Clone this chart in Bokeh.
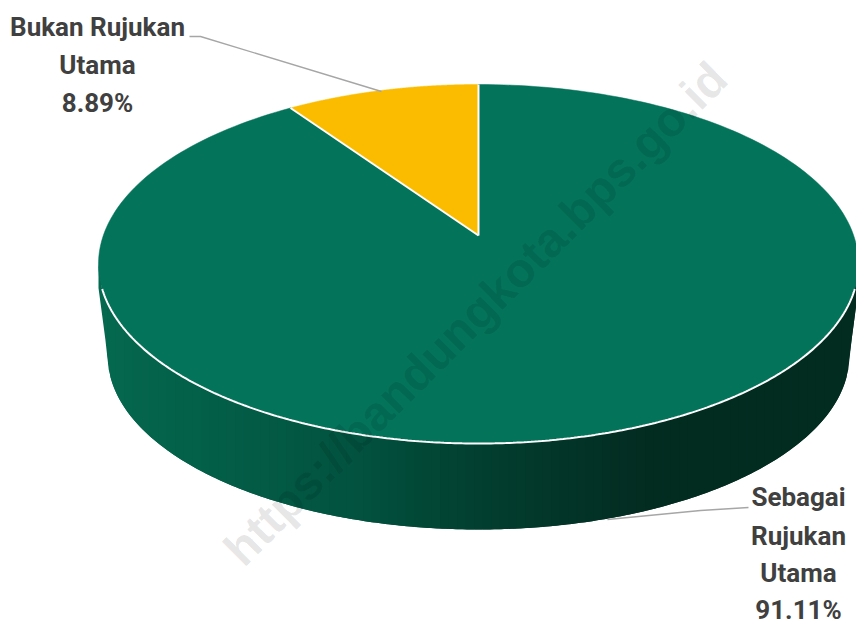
import numpy as np
from bokeh.core.properties import value
from bokeh.embed import file_html
from bokeh.models import Range1d
from bokeh.plotting import figure
from bokeh.resources import INLINE

# Share of respondents by main reference use
categories = ["Bukan Rujukan Utama", "Sebagai Rujukan Utama"]
shares = [8.89, 91.11]
colors = ["#FBBC00", "#03735A"]

# Wall shading from the left rim to the right rim
wall_positions = [0.0, 0.14, 0.33, 0.50, 0.62, 0.72, 1.0]
wall_colors = ["#04694F", "#035F48", "#025340", "#023F30", "#023427", "#032C21", "#032C21"]

W, H = 856, 624
CX, CY, RX, RY = 478.0, 263.5, 380.0, 179.5   # top face ellipse
APEX = (478.0, 235.0)                         # where the slices meet
TILT = 0.08                                   # foreshortening of the rim
BX, BRX, BRY = 478.0, 371.0, 174.0            # base ellipse
BCY = 529.0 - BRY


def rim(frac):
    """Screen position on the top rim for a clockwise fraction from 12 o'clock."""
    t = 2 * np.pi * np.asarray(frac)
    u, v = np.sin(t), np.cos(t)
    d = 1 + TILT * v
    return CX + RX * u * np.sqrt(1 - TILT**2) / d, CY - RY * (v + TILT) / d


def blend(pos):
    stops = np.array([[int(c[i:i + 2], 16) for i in (1, 3, 5)] for c in wall_colors])
    rgb = [np.interp(pos, wall_positions, stops[:, k]) for k in range(3)]
    return "#%02x%02x%02x" % tuple(int(round(c)) for c in rgb)


p = figure(width=W, height=H, x_range=Range1d(0, W), y_range=Range1d(H, 0),
           output_backend="svg", toolbar_location=None, min_border=0,
           outline_line_color=None, background_fill_color="white")
p.axis.visible = False
p.grid.visible = False

# Side wall, as overlapping shaded strips between the top rim and the base
edges = np.linspace(CX - RX, CX + RX, 90)


def wall_top(x):
    return CY + RY * np.sqrt(np.clip(1 - ((x - CX) / RX) ** 2, 0, 1))


def wall_bottom(x):
    s = np.clip((x - BX) / BRX, -1, 1)
    below = BCY + BRY * np.sqrt(1 - s**2)
    # straight run from the outer rim down to the base tangent
    outside = np.abs(x - BX) > BRX
    slope = (BCY - (CY + 24)) / (RX - BRX)
    return np.where(outside, BCY - (np.abs(x - BX) - BRX) * slope, below)


for i, (a, b) in enumerate(zip(edges[:-1], edges[1:])):
    # every strip reaches into the next one's span so no seams show
    reach = edges[min(i + 2, len(edges) - 1)]
    xs = np.linspace(a, reach, 6)
    c = blend((0.5 * (a + b) - edges[0]) / (edges[-1] - edges[0]))
    p.patch(np.r_[xs, xs[::-1]], np.r_[wall_top(xs), wall_bottom(xs)[::-1]],
            fill_color=c, line_color=None)

# Top face slices, running clockwise from 12 o'clock
fractions = np.cumsum([0] + shares) / sum(shares)
for i in range(len(shares)):
    ts = np.linspace(-fractions[i + 1], -fractions[i], 240)
    rx, ry = rim(ts)
    p.patch(np.r_[APEX[0], rx], np.r_[APEX[1], ry], fill_color=colors[i],
            line_color=colors[i], line_width=0.5)

# White seams along the slice edges and the front of the rim
for f in fractions[:2]:
    ex, ey = rim(-f)
    p.line([APEX[0], float(ex)], [APEX[1], float(ey)], line_color="white", line_width=2)
front = np.linspace(np.pi * 0.5 + 0.14, np.pi * 1.5 - 0.14, 300)
p.line(CX + RX * np.sin(front), CY - RY * np.cos(front), line_color="white", line_width=2)

# Leader lines
leader_color = "#A6A6A6"
p.line([189, 200, 381], [36, 36, 91], line_color=leader_color, line_width=1.4)
p.line([748, 700, 607], [507, 510, 519], line_color=leader_color, line_width=1.4)

# Data labels
label_font = value("Roboto")
first = f"{shares[0]:.2f}%"
second = f"{shares[1]:.2f}%"
block_a = ["Bukan Rujukan", "Utama", first]
block_b = ["Sebagai", "Rujukan", "Utama", second]
p.text([97] * 3, [26, 64, 102], text=block_a, text_align="center", text_baseline="middle",
       text_font=label_font, text_font_style="bold", text_font_size="26px", text_color="#404040")
p.text([798] * 4, [496, 535, 572, 609], text=block_b, text_align="center", text_baseline="middle",
       text_font=label_font, text_font_style="bold", text_font_size="26px", text_color="#404040")

# Site address watermark
p.text([475], [313], text=["https://bandungkota.bps.go.id"], angle=np.radians(45), angle_units="rad",
       text_align="center", text_baseline="middle", text_font=value("Liberation Sans"),
       text_font_style="bold", text_font_size="48px", text_color="black", text_alpha=0.1)

open("out.html", "w").write(file_html(p, INLINE))
